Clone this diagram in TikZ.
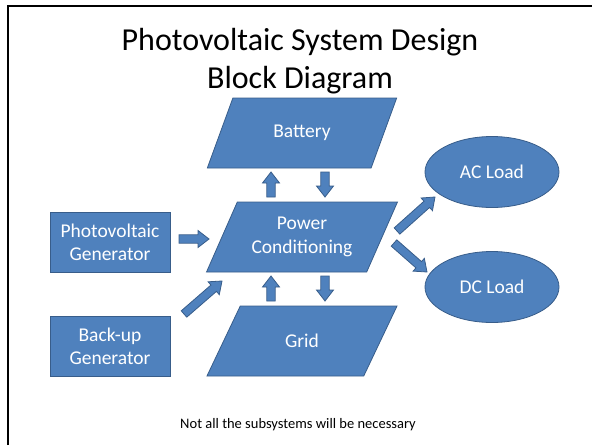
\documentclass[tikz,border=0pt]{standalone}
\usepackage{fontspec}
\setmainfont{Carlito}
\usetikzlibrary{shapes.geometric,calc}
\definecolor{boxfill}{HTML}{4F81BD}
\definecolor{boxline}{HTML}{385D8A}
\tikzset{
  blk/.style={fill=boxfill, draw=boxline, line width=0.8pt, text=white, inner sep=2pt,
    font=\fontsize{19.5}{23.4}\selectfont, align=center},
  rectbox/.style={blk, rectangle, minimum width=120pt, minimum height=60pt},
  parbox/.style={blk, trapezium, trapezium left angle=60, trapezium right angle=120,
    trapezium stretches=true, minimum width=191pt, minimum height=70pt},
  ellbox/.style={blk, ellipse, minimum width=134pt, minimum height=71pt},
  barrowstyle/.style={fill=boxfill, draw=boxline, line width=0.8pt, line join=miter},
}
\newcommand\barrow[3]{%
  \coordinate (#1s) at #2; \coordinate (#1e) at #3;
  \coordinate (#1h) at ($(#1e)!11pt!(#1s)$);
  \draw[barrowstyle] ($(#1s)!4.2pt!90:(#1e)$) -- ($(#1h)!4.2pt!-90:(#1s)$) -- ($(#1h)!8.5pt!-90:(#1s)$)
    -- (#1e) -- ($(#1h)!8.5pt!90:(#1s)$) -- ($(#1h)!4.2pt!90:(#1s)$) -- ($(#1s)!4.2pt!-90:(#1e)$) -- cycle;
}
\begin{document}
\begin{tikzpicture}[x=1pt,y=-1pt]
\useasboundingbox (0,0) rectangle (592,445);
% slide frame
\draw[line width=2pt] (8,445) -- (8,6) -- (592,6);
% title
\node[anchor=base, font=\fontsize{32}{38}\selectfont, inner sep=0pt] (t1) at (300,50) {Photovoltaic System Design};
\node[anchor=base, font=\fontsize{32}{38}\selectfont, inner sep=0pt] (t2) at (300,88) {Block Diagram};
% blocks
\node[rectbox] (pv) at (110,242) {Photovoltaic\\Generator};
\node[rectbox] (bu) at (110,346) {Back-up\\Generator};
\node[parbox] (bat) at (302,133) {Battery};
\node[parbox] (pc) at (302,237) {Power\\Conditioning};
\node[parbox] (grid) at (302,341) {Grid};
\node[ellbox] (ac) at (492,172) {AC Load};
\node[ellbox] (dc) at (492,287) {DC Load};
% block arrows
\barrow{a1}{(271,197)}{(271,172)}
\barrow{a2}{(325,172)}{(325,197)}
\barrow{a3}{(325,276)}{(325,301)}
\barrow{a4}{(271,301)}{(271,276)}
\barrow{a5}{(179,239)}{(209,239)}
\barrow{a6}{(184,314)}{(222,281)}
\barrow{a7}{(397,231)}{(435,197)}
\barrow{a8}{(394,243)}{(427,272)}
% note
\node[anchor=base, font=\fontsize{14.5}{17}\selectfont, inner sep=0pt] (note) at (298,428) {Not all the subsystems will be necessary};
\end{tikzpicture}
\end{document}
